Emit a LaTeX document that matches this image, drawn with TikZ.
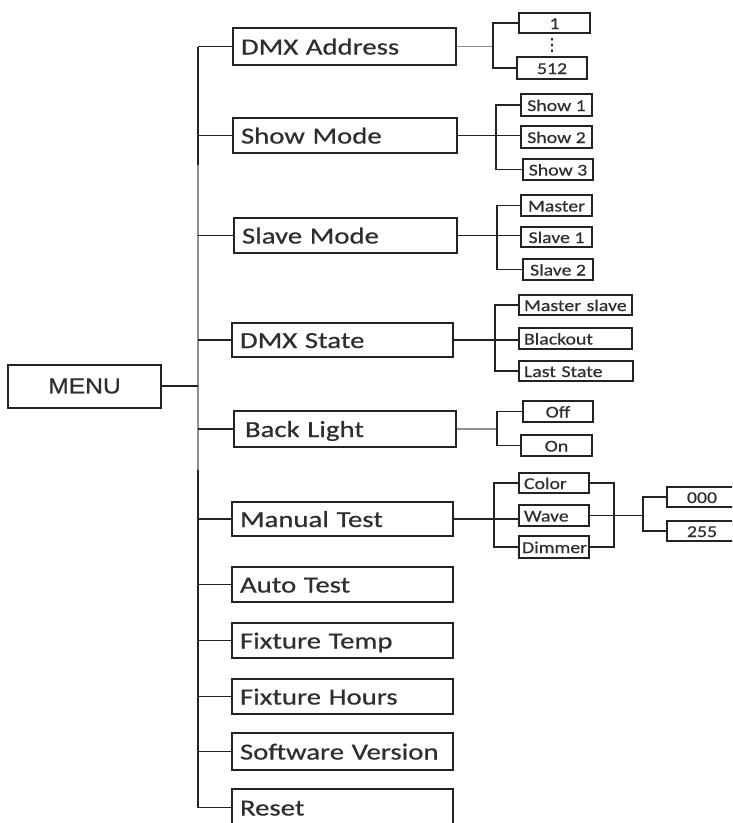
\documentclass[tikz,border=0pt]{standalone}
\usepackage{fontspec}
\newfontfamily\mainf{Carlito}[FakeStretch=1.25,FakeBold=0.6]
\newfontfamily\subf{Carlito}[FakeStretch=1.2,FakeBold=0.5]
\newfontfamily\menuf{Liberation Sans}[FakeStretch=1.12,FakeBold=0.5]
\newfontfamily\symf{DejaVu Sans}[FakeBold=1]
\definecolor{ink}{HTML}{222222}
\definecolor{txt}{HTML}{2E2E2E}
\definecolor{lgray}{HTML}{8E8E8E}
\begin{document}
\begin{tikzpicture}[x=1pt,y=-1pt,
  mbox/.style={draw=ink, line width=2pt, inner xsep=8pt, inner ysep=0pt,
    text height=16pt, text depth=0pt, align=left, text=txt,
    font=\mainf\fontsize{23}{23}\selectfont},
  sbox/.style={draw=ink, line width=1.8pt, inner sep=0pt,
    text height=12pt, text depth=0pt, align=center, text=txt,
    font=\subf\fontsize{16.5}{16.5}\selectfont},
  lbox/.style={sbox, inner xsep=5pt, align=left},
  conn/.style={draw=ink, line width=1.6pt},
  gconn/.style={draw=lgray, line width=1.6pt}]
\useasboundingbox (0,0) rectangle (732,823);
\clip (0,0) rectangle (732,823);

% MENU
\node[draw=ink, line width=2pt, minimum width=153pt, minimum height=43pt, inner sep=0pt,
  text=txt, font=\menuf\fontsize{22}{22}\selectfont] (menu) at (84.5,386) {MENU};

% main items
\node[mbox, text width=207pt, minimum height=37pt] (dmx) at (344.5,46.5) {DMX Address};
\node[mbox, text width=208pt, minimum height=35pt] (show) at (345,135.5) {Show Mode};
\node[mbox, text width=207pt, minimum height=35pt] (slave) at (345.5,235.5) {Slave Mode};
\node[mbox, text width=205pt, minimum height=34pt] (state) at (342.5,340) {DMX State};
\node[mbox, inner xsep=11pt, text width=200pt, minimum height=36pt] (back) at (345,429) {Back Light};
\node[mbox, text width=205pt, minimum height=34pt] (manual) at (342.5,519) {Manual Test};
\node[mbox, text width=205pt, minimum height=35pt] (auto) at (342.5,584.5) {Auto Test};
\node[mbox, text width=205pt, minimum height=35pt] (temp) at (342.5,640.5) {Fixture Temp};
\node[mbox, text width=205pt, minimum height=35pt] (hours) at (342.5,696.5) {Fixture Hours};
\node[mbox, text width=205pt, minimum height=37pt] (soft) at (342.5,751.5) {Software Version};
\node[mbox, text width=205pt, minimum height=37pt] (reset) at (342.5,807.5) {Reset};

% sub items
\node[sbox, minimum width=71pt, minimum height=20pt] (a1) at (554.5,23) {1};
\node[sbox, minimum width=70pt, minimum height=22pt] (a512) at (552,68) {512};
\node[text=ink, inner sep=0pt, font=\symf\fontsize{17}{17}\selectfont] (dots) at (552,45) {⋮};

\node[sbox, minimum width=71pt, minimum height=22pt] (s1) at (556.5,105) {Show 1};
\node[sbox, minimum width=71pt, minimum height=22pt] (s2) at (556.5,137) {Show 2};
\node[sbox, minimum width=70pt, minimum height=21pt] (s3) at (558,169.5) {Show 3};

\node[sbox, minimum width=71pt, minimum height=21pt] (m0) at (556.5,205.5) {Master};
\node[sbox, minimum width=71pt, minimum height=20pt] (m1) at (556.5,237) {Slave 1};
\node[sbox, minimum width=70pt, minimum height=21pt] (m2) at (558,269.5) {Slave 2};

\node[lbox, text width=103pt, minimum height=20pt] (ms) at (575.5,305) {Master slave};
\node[lbox, text width=103pt, minimum height=21pt] (bo) at (575.5,338.5) {Blackout};
\node[lbox, text width=104pt, minimum height=20pt] (ls) at (576,371) {Last State};

\node[sbox, minimum width=70pt, minimum height=21pt] (off) at (558,411.5) {Off};
\node[sbox, minimum width=71pt, minimum height=21pt] (on) at (556.5,445.5) {On};

\node[lbox, text width=60pt, minimum height=20pt] (color) at (554,483) {Color};
\node[lbox, text width=60pt, minimum height=21pt] (wave) at (554,515.5) {Wave};
\node[lbox, inner xsep=3pt, text width=64pt, minimum height=22pt] (dim) at (554,547) {Dimmer};

\node[sbox, minimum width=70pt, minimum height=20pt] (z0) at (702,497) {000};
\node[sbox, minimum width=70pt, minimum height=20pt] (z255) at (702,531) {255};

% vertical guide coordinates
\coordinate (tk) at (198,0);
\coordinate (g1) at (198,165);
\coordinate (g2) at (198,470);
\coordinate (v1) at (493,0);
\coordinate (v2) at (496,0);
\coordinate (v3) at (497,0);
\coordinate (v4) at (495,0);
\coordinate (v5) at (497,0);
\coordinate (v6) at (494,0);
\coordinate (v7) at (614,0);
\coordinate (v8) at (643,0);

% trunk
\draw[conn] (tk |- dmx.west) -- (tk |- reset.west);
\draw[gconn] (g1) -- (g2);
\draw[conn] (menu.east) -- (menu.east -| tk);
\foreach \n in {dmx,show,slave,state,back,manual,auto,temp,hours,soft,reset}
  \draw[conn] (tk |- \n.west) -- (\n.west);

% DMX address
\draw[gconn] (dmx.east) -- (dmx.east -| v1);
\draw[conn] (a1.west) -| (v1 |- a512.west) -- (a512.west);
% Show mode
\draw[conn] (show.east) -- (show.east -| s2.west);
\draw[conn] (s1.west) -| (v2 |- s3.west) -- (s3.west);
% Slave mode
\draw[conn] (slave.east) -- (slave.east -| m1.west);
\draw[conn] (m0.west) -| (v3 |- m2.west) -- (m2.west);
% DMX state
\draw[conn] (state.east) -- (state.east -| bo.west);
\draw[conn] (ms.west) -| (v4 |- ls.west) -- (ls.west);
% Back light
\draw[gconn] (back.east) -- (back.east -| v5);
\draw[conn] (off.west) -| (v5 |- on.west) -- (on.west);
% Manual test
\draw[conn] (manual.east) -- (manual.east -| wave.west);
\draw[conn] (color.west) -| (v6 |- dim.west) -- (dim.west);
\draw[conn] (color.east) -| (v7 |- dim.east) -- (dim.east);
\draw[conn] (wave.east) -- (wave.east -| v8);
\draw[conn] (z0.west) -| (v8 |- z255.west) -- (z255.west);
\end{tikzpicture}
\end{document}
